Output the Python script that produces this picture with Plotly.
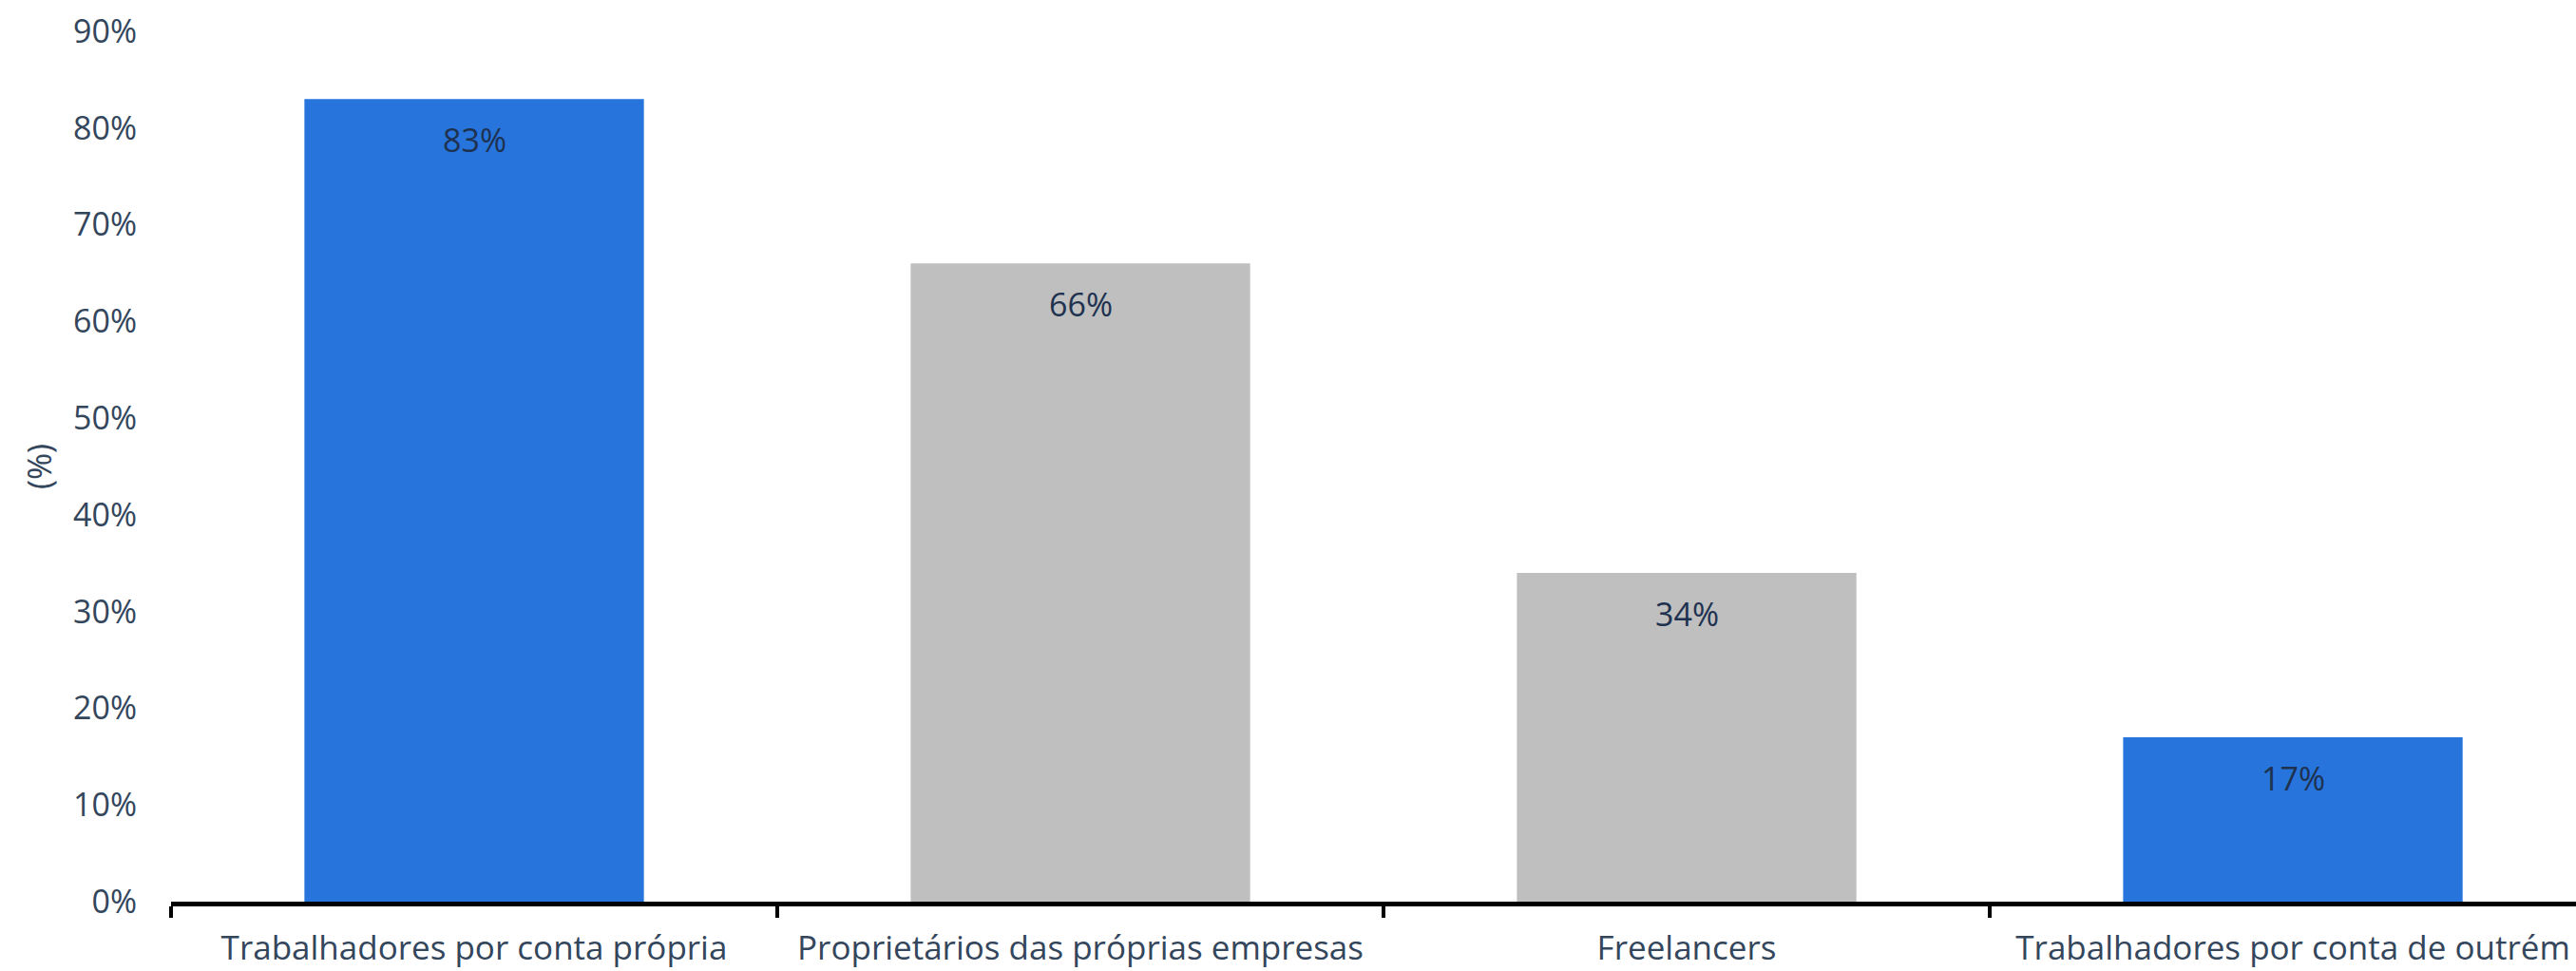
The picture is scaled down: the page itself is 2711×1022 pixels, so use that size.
import plotly.graph_objects as go

categories = ["Trabalhadores por conta própria", "Proprietários das próprias empresas",
              "Freelancers", "Trabalhadores por conta de outrém"]
values = [83, 66, 34, 17]
bar_colors = ["#2775dc", "#bfbfbf", "#bfbfbf", "#2775dc"]
y_ticks = [0, 10, 20, 30, 40, 50, 60, 70, 80, 90]
y_tick_labels = [f"{v}%" for v in y_ticks]

FONT = "Open Sans"
TICK_COLOR = "#33465c"
LABEL_COLOR = "#1e3250"

fig = go.Figure(go.Bar(
    x=categories, y=values, width=0.56,
    marker=dict(color=bar_colors, line=dict(width=0)),
))

for c, v in zip(categories, values):
    fig.add_annotation(x=c, y=v, text=f"{v}%", showarrow=False, yanchor="middle",
                       yshift=-43, font=dict(family=FONT, size=34, color=LABEL_COLOR))

fig.update_layout(
    width=2711, height=1022,
    margin=dict(l=180, r=0, t=33, b=73),
    paper_bgcolor="white", plot_bgcolor="white",
    showlegend=False,
)
fig.update_xaxes(
    range=[-0.5, 3.467],
    showline=True, linecolor="black", linewidth=5,
    ticks="outside", tickson="boundaries", ticklen=12, tickwidth=4, tickcolor="black",
    tickfont=dict(family=FONT, size=35, color=TICK_COLOR),
    ticklabelstandoff=14,
    showgrid=False, zeroline=False,
)
fig.update_yaxes(
    range=[0, 90], tickvals=y_ticks, ticktext=y_tick_labels,
    showgrid=False, zeroline=False, showline=False, ticks="",
    tickfont=dict(family=FONT, size=34, color=TICK_COLOR),
    ticklabelstandoff=35,
    title=dict(text="(%)", font=dict(family=FONT, size=34, color=TICK_COLOR), standoff=12),
)

fig.write_html("out.html", config={"displayModeBar": False},
               post_script="document.body.style.margin='0';")
